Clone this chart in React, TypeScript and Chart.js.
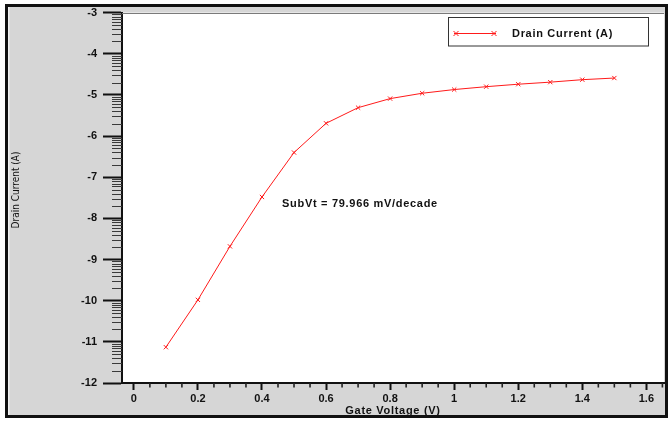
import React, { useEffect, useRef } from "react";
import { Chart, registerables } from "chart.js";

Chart.register(...registerables);

// ---- data ----
const gateVoltage = [0.1, 0.2, 0.3, 0.4, 0.5, 0.6, 0.7, 0.8, 0.9, 1.0, 1.1, 1.2, 1.3, 1.4, 1.5];
const drainCurrentLog = [-11.13, -9.98, -8.68, -7.48, -6.4, -5.69, -5.31, -5.09, -4.96, -4.87, -4.8, -4.74, -4.69, -4.63, -4.59];
const xTickValues = [0, 0.2, 0.4, 0.6, 0.8, 1.0, 1.2, 1.4, 1.6];
const yTickValues = [-12, -11, -10, -9, -8, -7, -6, -5, -4, -3];
const seriesLabel = "Drain Current (A)";
const xAxisTitle = "Gate Voltage (V)";
const yAxisTitle = "Drain Current (A)";
const annotationText = "SubVt = 79.966 mV/decade";

const FONT = '"Liberation Sans", Arial, Helvetica, sans-serif';
const NARROW = '"Liberation Sans Narrow", "DejaVu Sans Condensed", "Liberation Sans", sans-serif';
const RED = "#ff1a1a";

function drawCross(ctx: CanvasRenderingContext2D, x: number, y: number, r: number) {
  ctx.beginPath();
  ctx.moveTo(x - r, y - r);
  ctx.lineTo(x + r, y + r);
  ctx.moveTo(x - r, y + r);
  ctx.lineTo(x + r, y - r);
  ctx.stroke();
}

const framePlugin = {
  id: "framePlugin",
  beforeDraw(chart: any) {
    const { ctx, chartArea: a, width, height } = chart;
    ctx.save();
    ctx.fillStyle = "#ffffff";
    ctx.fillRect(0, 0, width, height);
    ctx.fillStyle = "#d6d6d6";
    ctx.fillRect(5, 4, 663, 414);
    ctx.fillStyle = "#f2f2f2";
    ctx.fillRect(8, 7, 1.5, 408);
    ctx.fillStyle = "#ffffff";
    ctx.fillRect(a.left, a.top, a.right - a.left, a.bottom - a.top);
    ctx.restore();
  },
  afterDraw(chart: any) {
    const { ctx, chartArea: a } = chart;
    const xs = chart.scales.x;
    const ys = chart.scales.y;
    ctx.save();

    // top plot border
    ctx.strokeStyle = "#7a7a7a";
    ctx.lineWidth = 1;
    ctx.beginPath();
    ctx.moveTo(a.left, Math.round(a.top) + 0.5);
    ctx.lineTo(a.right, Math.round(a.top) + 0.5);
    ctx.stroke();

    // y minor ticks (log decade subdivisions)
    ctx.strokeStyle = "#3a3a3a";
    ctx.lineWidth = 1;
    for (let d = yTickValues[0]; d < yTickValues[yTickValues.length - 1]; d++) {
      for (let k = 2; k <= 9; k++) {
        const py = Math.round(ys.getPixelForValue(d + Math.log10(k))) + 0.5;
        ctx.beginPath();
        ctx.moveTo(a.left - 10, py);
        ctx.lineTo(a.left, py);
        ctx.stroke();
      }
    }

    // x minor ticks
    ctx.strokeStyle = "#222";
    ctx.lineWidth = 1.6;
    for (let i = -1; i <= 33; i++) {
      if (i % 4 === 0) continue;
      const v = i * 0.05;
      if (v < xs.min || v > xs.max) continue;
      const px = xs.getPixelForValue(v);
      ctx.beginPath();
      ctx.moveTo(px, a.bottom);
      ctx.lineTo(px, a.bottom + 4.5);
      ctx.stroke();
    }

    // outer frame
    ctx.fillStyle = "#111";
    ctx.fillRect(5, 4, 663, 3);
    ctx.fillRect(5, 415, 663, 3);
    ctx.fillRect(5, 4, 3, 414);
    ctx.fillRect(665, 4, 3, 414);

    // legend
    ctx.fillStyle = "#ffffff";
    ctx.fillRect(448, 17.5, 200, 28.5);
    ctx.strokeStyle = "#333";
    ctx.lineWidth = 1;
    ctx.strokeRect(448.5, 17.5, 200, 28.5);
    ctx.strokeStyle = RED;
    ctx.lineWidth = 1;
    ctx.beginPath();
    ctx.moveTo(454, 33.5);
    ctx.lineTo(496, 33.5);
    ctx.stroke();
    drawCross(ctx, 456, 33.5, 2.5);
    drawCross(ctx, 494, 33.5, 2.5);
    ctx.fillStyle = "#111";
    ctx.font = `bold 11px ${FONT}`;
    (ctx as any).letterSpacing = "0.7px";
    ctx.textAlign = "left";
    ctx.textBaseline = "middle";
    ctx.fillText(chart.data.datasets[0].label, 512, 34);

    // annotation
    ctx.fillText(annotationText, xs.getPixelForValue(0.4625), ys.getPixelForValue(-7.645));

    // x axis title
    ctx.textAlign = "center";
    ctx.fillText(xAxisTitle, (a.left + a.right) / 2, 410.5);

    // y axis title
    (ctx as any).letterSpacing = "0px";
    ctx.font = `10px ${NARROW}`;
    ctx.translate(16, 190);
    ctx.rotate(-Math.PI / 2);
    ctx.textAlign = "center";
    ctx.textBaseline = "middle";
    ctx.fillText(yAxisTitle, 0, 0);
    ctx.restore();
  },
};

export default function App() {
  const ref = useRef<HTMLCanvasElement | null>(null);

  useEffect(() => {
    if (!ref.current) return;
    const chart = new Chart(ref.current, {
      type: "line",
      data: {
        datasets: [
          {
            label: seriesLabel,
            data: gateVoltage.map((x, i) => ({ x, y: drainCurrentLog[i] })),
            borderColor: RED,
            backgroundColor: RED,
            borderWidth: 1,
            pointStyle: "crossRot",
            pointRadius: 3,
            pointBorderWidth: 1,
            pointBorderColor: RED,
            tension: 0,
            fill: false,
          },
        ],
      },
      options: {
        responsive: false,
        animation: false,
        devicePixelRatio: 1,
        layout: { padding: { left: 0, top: 10, right: 6, bottom: 0 } },
        plugins: { legend: { display: false }, tooltip: { enabled: false } },
        scales: {
          x: {
            type: "linear",
            min: -0.037,
            max: 1.655,
            afterBuildTicks: (s: any) => {
              s.ticks = xTickValues.map((v) => ({ value: v }));
            },
            afterFit: (s: any) => {
              s.height = 40;
            },
            ticks: {
              autoSkip: false,
              maxRotation: 0,
              color: "#111",
              padding: 2,
              font: { family: FONT, size: 11, weight: "bold" },
              callback: (v: any) => String(Math.round(Number(v) * 10) / 10),
            },
            grid: { drawOnChartArea: false, drawTicks: true, tickLength: 7, tickWidth: 2, tickColor: "#111" },
            border: { display: true, color: "#111", width: 2 },
          },
          y: {
            type: "linear",
            min: yTickValues[0],
            max: yTickValues[yTickValues.length - 1],
            afterBuildTicks: (s: any) => {
              s.ticks = yTickValues.map((v) => ({ value: v }));
            },
            afterFit: (s: any) => {
              s.width = 122;
            },
            ticks: {
              autoSkip: false,
              color: "#111",
              padding: 6,
              font: { family: FONT, size: 11, weight: "bold" },
              callback: (v: any) => String(v),
            },
            grid: { drawOnChartArea: false, drawTicks: true, tickLength: 19, tickWidth: 2, tickColor: "#111" },
            border: { display: true, color: "#111", width: 2 },
          },
        },
      },
      plugins: [framePlugin],
    } as any);
    return () => chart.destroy();
  }, []);

  return (
    <div style={{ position: "fixed", left: 0, top: 0, width: 670, height: 423 }}>
      <canvas ref={ref} width={670} height={423} style={{ display: "block", width: 670, height: 423 }} />
    </div>
  );
}
